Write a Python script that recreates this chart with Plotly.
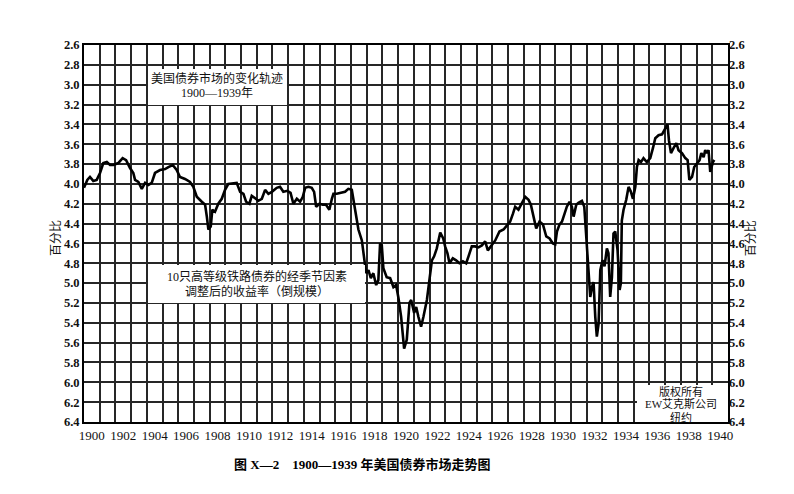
import plotly.graph_objects as go

# yield of 10 high grade railroad bonds (inverted scale)
years = [
    1900.00, 1900.21, 1900.38, 1900.59, 1900.81, 1901.02, 1901.23, 1901.45, 1901.66, 1901.87,
    1902.18, 1902.46, 1902.68, 1902.93, 1903.14, 1903.25, 1903.46, 1903.68, 1903.89, 1904.10,
    1904.31, 1904.52, 1904.84, 1905.16, 1905.37, 1905.65, 1905.90, 1906.11, 1906.43, 1906.75,
    1906.96, 1907.18, 1907.50, 1907.71, 1907.82, 1907.92, 1908.07, 1908.17, 1908.34, 1908.55,
    1908.77, 1908.98, 1909.19, 1909.50, 1909.72, 1909.94, 1910.15, 1910.32, 1910.53, 1910.68,
    1910.89, 1911.10, 1911.32, 1911.53, 1911.74, 1911.96, 1912.27, 1912.48, 1912.69, 1912.95,
    1913.15, 1913.33, 1913.55, 1913.76, 1913.93, 1914.08, 1914.29, 1914.50, 1914.65, 1914.78,
    1914.99, 1915.20, 1915.41, 1915.62, 1915.78, 1915.88, 1916.09, 1916.41, 1916.62, 1916.83,
    1917.05, 1917.26, 1917.47, 1917.69, 1917.83, 1917.96, 1918.11, 1918.26, 1918.42, 1918.60,
    1918.74, 1918.85, 1918.96, 1919.06, 1919.27, 1919.49, 1919.70, 1919.87, 1920.02, 1920.19,
    1920.38, 1920.55, 1920.72, 1920.83, 1921.02, 1921.15, 1921.29, 1921.46, 1921.61, 1921.83,
    1921.99, 1922.15, 1922.29, 1922.46, 1922.68, 1922.87, 1922.99, 1923.14, 1923.27, 1923.48,
    1923.69, 1923.90, 1924.12, 1924.33, 1924.48, 1924.69, 1924.90, 1925.11, 1925.33, 1925.54,
    1925.71, 1925.96, 1926.18, 1926.45, 1926.71, 1926.92, 1927.13, 1927.31, 1927.45, 1927.66,
    1927.88, 1928.09, 1928.30, 1928.45, 1928.62, 1928.79, 1929.00, 1929.22, 1929.43, 1929.64,
    1929.85, 1930.00, 1930.11, 1930.27, 1930.43, 1930.57, 1930.74, 1930.91, 1931.06, 1931.17,
    1931.34, 1931.48, 1931.70, 1931.85, 1931.97, 1932.12, 1932.23, 1932.34, 1932.44, 1932.55,
    1932.65, 1932.76, 1932.87, 1933.01, 1933.14, 1933.29, 1933.39, 1933.50, 1933.61, 1933.71,
    1933.82, 1933.97, 1934.10, 1934.18, 1934.24, 1934.35, 1934.52, 1934.67, 1934.82, 1934.95,
    1935.10, 1935.20, 1935.31, 1935.46, 1935.62, 1935.83, 1936.05, 1936.22, 1936.37, 1936.58,
    1936.80, 1937.01, 1937.15, 1937.24, 1937.37, 1937.53, 1937.71, 1937.85, 1938.07, 1938.28,
    1938.43, 1938.54, 1938.71, 1938.85, 1939.02, 1939.19, 1939.30, 1939.45, 1939.55, 1939.66,
    1939.76, 1939.87, 1940.04, 1940.13,
]
yields = [
    4.04, 3.96, 3.93, 3.97, 3.96, 3.89, 3.79, 3.78, 3.81, 3.81,
    3.79, 3.74, 3.76, 3.84, 3.89, 3.96, 3.98, 4.05, 3.99, 4.01,
    3.99, 3.89, 3.86, 3.85, 3.83, 3.81, 3.86, 3.93, 3.95, 3.98,
    4.03, 4.13, 4.18, 4.21, 4.33, 4.46, 4.43, 4.26, 4.28, 4.20,
    4.15, 4.06, 4.00, 3.99, 3.99, 4.08, 4.10, 4.18, 4.20, 4.12,
    4.15, 4.17, 4.15, 4.06, 4.10, 4.08, 4.04, 4.03, 4.08, 4.07,
    4.09, 4.20, 4.15, 4.18, 4.13, 4.04, 4.03, 4.04, 4.08, 4.23,
    4.20, 4.21, 4.21, 4.26, 4.15, 4.10, 4.10, 4.09, 4.08, 4.05,
    4.06, 4.26, 4.46, 4.57, 4.77, 4.90, 4.87, 4.95, 4.90, 5.02,
    4.97, 4.60, 4.62, 4.85, 4.94, 4.95, 5.04, 5.02, 5.15, 5.34,
    5.66, 5.57, 5.20, 5.17, 5.30, 5.24, 5.34, 5.44, 5.34, 5.17,
    4.97, 4.77, 4.73, 4.65, 4.49, 4.55, 4.63, 4.70, 4.80, 4.75,
    4.77, 4.80, 4.78, 4.80, 4.73, 4.63, 4.63, 4.64, 4.62, 4.58,
    4.67, 4.62, 4.57, 4.48, 4.46, 4.42, 4.38, 4.30, 4.23, 4.26,
    4.20, 4.13, 4.16, 4.21, 4.33, 4.45, 4.38, 4.41, 4.53, 4.55,
    4.60, 4.61, 4.48, 4.41, 4.38, 4.31, 4.23, 4.18, 4.23, 4.33,
    4.21, 4.19, 4.17, 4.23, 4.52, 4.80, 5.14, 5.04, 4.99, 5.34,
    5.54, 5.41, 4.87, 4.77, 4.83, 4.65, 4.70, 5.14, 4.94, 4.50,
    4.48, 4.67, 5.07, 5.00, 4.37, 4.26, 4.16, 4.03, 4.08, 4.15,
    4.03, 3.83, 3.76, 3.78, 3.74, 3.78, 3.74, 3.64, 3.54, 3.51,
    3.50, 3.44, 3.40, 3.56, 3.69, 3.64, 3.59, 3.66, 3.69, 3.74,
    3.76, 3.96, 3.93, 3.83, 3.79, 3.76, 3.69, 3.73, 3.66, 3.69,
    3.66, 3.88, 3.78, 3.76,
]

label_years = list(range(1900, 1941, 2))
y_ticks = [round(2.6 + 0.2 * i, 1) for i in range(20)]

serif = "Liberation Serif, Noto Sans CJK SC"
grid = "#262626"

fig = go.Figure()
fig.add_trace(go.Scatter(x=years, y=yields, mode="lines",
                         line=dict(color="black", width=2.6),
                         showlegend=False, hoverinfo="skip"))
# dummy trace so the right hand axis is drawn
fig.add_trace(go.Scatter(x=[years[0]], y=[yields[0]], yaxis="y2", mode="markers",
                         marker=dict(opacity=0), showlegend=False, hoverinfo="skip"))

# the page body adds an 8px margin, so the figure is a bit smaller than the window
fig.update_layout(
    width=786, height=486,
    margin=dict(l=76, r=66, t=37, b=72),
    paper_bgcolor="white", plot_bgcolor="white",
    font=dict(family=serif, size=12, color="black"),
    xaxis=dict(range=[1900, 1941],
               tickvals=[y + 0.5 for y in label_years],
               ticktext=[str(y) for y in label_years],
               ticks="", showgrid=False, zeroline=False,
               showline=True, linecolor="black", linewidth=2, mirror=True,
               tickfont=dict(family=serif, size=13, color="#111"),
               minor=dict(tickvals=list(range(1901, 1941)), showgrid=True,
                          gridcolor=grid, gridwidth=1.6, ticks="")),
    yaxis=dict(range=[6.4, 2.6], tickvals=y_ticks, tickformat=".1f",
               ticks="", showgrid=True, gridcolor=grid, gridwidth=1.6, zeroline=False,
               showline=True, linecolor="black", linewidth=2, mirror=True,
               tickfont=dict(family=serif, size=12.5, color="#111", weight="bold")),
    yaxis2=dict(range=[6.4, 2.6], overlaying="y", side="right", tickvals=y_ticks,
                tickformat=".1f", ticks="", showgrid=False, zeroline=False,
                tickfont=dict(family=serif, size=12.5, color="#111", weight="bold")),
)

# white label boxes on top of the grid
boxes = [(0.0994, 0.8408, 0.3152, 0.9363),
         (0.0994, 0.3156, 0.4363, 0.4164),
         (0.8587, 0.0, 1.0, 0.0981)]
for x0, y0, x1, y1 in boxes:
    fig.add_shape(type="rect", xref="paper", yref="paper", x0=x0, y0=y0, x1=x1, y1=y1,
                  fillcolor="white", line=dict(width=0), layer="above")

labels = [
    ("美国债券市场的变化轨迹", 0.2065, 0.9117, 12),
    ("1900—1939年", 0.2065, 0.8735, 12),
    ("10只高等级铁路债券的经季节因素", 0.2690, 0.3854, 12),
    ("调整后的收益率（倒规模）", 0.2680, 0.3456, 12),
    ("版权所有", 0.927, 0.0805, 11),
    ("EW艾克斯公司", 0.927, 0.0465, 11),
    ("纽约", 0.927, 0.0125, 11),
]
for text, x, y, size in labels:
    fig.add_annotation(text=text, x=x, y=y, xref="paper", yref="paper",
                       xanchor="center", yanchor="middle", showarrow=False,
                       font=dict(family=serif, size=size, color="#111"))

for x in (-0.0575, 1.0500):
    fig.add_annotation(text="百分比", x=x, y=0.488, xref="paper", yref="paper",
                       textangle=-90, showarrow=False,
                       font=dict(family=serif, size=12, color="#111"))

fig.add_annotation(text="<b>图 X—2　1900—1939 年美国债券市场走势图</b>",
                   x=0.4317, y=-0.114, xref="paper", yref="paper",
                   xanchor="center", yanchor="middle", showarrow=False,
                   font=dict(family=serif, size=13, color="black"))

fig.write_html("out.html")
